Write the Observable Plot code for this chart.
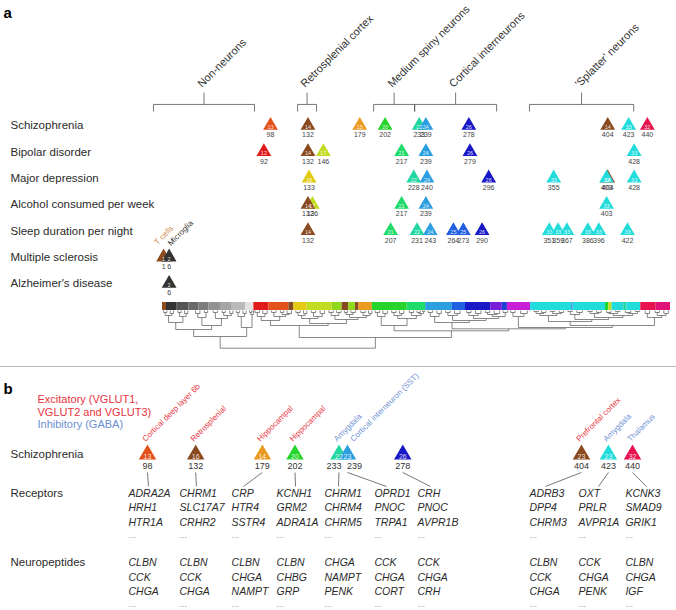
<!DOCTYPE html>
<html><head><meta charset="utf-8">
<script src="https://cdn.jsdelivr.net/npm/d3@7"></script>
<script src="https://cdn.jsdelivr.net/npm/@observablehq/plot@0.6"></script>
<style>
body{margin:0;background:#fff;}
#chart{width:676px;}
#chart svg{display:block;}
.sep{height:0;border-top:1px solid #b8b8b8;}
</style>
</head><body><div id="chart"></div>
<script>
// ---------------- DATA ----------------
const traits = ["Schizophrenia","Bipolar disorder","Major depression","Alcohol consumed per week","Sleep duration per night","Multiple sclerosis","Alzheimer's disease"];
// cluster index of each enriched cluster, and its supercluster label
const sczK = [98,132,179,202,233,239,278,404,423,440];
const sczSC = ["13","14","15","20","22","24","26","14","33","32"];
const bipK = [92,132,146,217,239,279,428];
const bipSC = ["12","14","17","21","24","26","33"];
const mddK = [133,228,240,296,355,404,403,428];
const mddSC = ["18","22","24","26","33","14","33","33"];
const alcK = [136,132,217,239,403];
const alcSC = ["17","14","21","24","33"];
const sleepK = [132,207,231,243,264,273,290,351,359,367,386,396,422];
const sleepSC = ["14","21","22","24","25","25","26","33","33","33","33","33","33"];
const msK = [1,6];
const msSC = ["1","2"];
const adK = [6];
const adSC = ["2"];
const nonNeuronLabels = ["T cells","Microglia"];

// cell-type groups (brackets) in cluster-index units
const groupNames = ["Non-neurons","Retrosplenial cortex","Medium spiny neurons","Cortical interneurons","'Splatter' neurons"];
const groupFrom = [-8.2,122.6,191.6,228.8,333];
const groupTo = [83.5,139.8,228.8,303.2,427.6];

// supercluster palette
const scIds = ["1","2","3","4","5","6","7","8","9","12","13","14","15","17","18","19","20","21","22","24","25","26","27","28","29","32","33","34"];
const scColors = ["#8c4b1f","#333333","#555555","#6a6a6a","#7d7d7d","#929292","#a5a5a5","#bababa","#e2e2e2","#e01b1b","#e4521c","#8a4a1f","#eb9a21","#c2dc23","#e2cb12","#8fd81c","#26d42c","#1fdb6a","#22d6a1","#2c9fe0","#205fe0","#1818c6","#7a1ed8","#2040d0","#c81ed8","#e6134e","#22dcdc","#e0137a"];

// dendrogram colour bar: segment starts (cluster index) and supercluster
const barFrom = [0,3.6,13.3,23.9,33,42,52.6,63.3,75.4,82.9,96.5,114.7,119.2,131.3,154,163,169,175.2,178.2,190.4,222,238.8,263,275,297.8,308.4,313,334,371.5,372.5,402,405,408,418.6,421.6,434,448];
const barSC = ["1","2","3","4","5","6","7","8","9","12","13","14","18","17","19","14","19","14","15","20","21","24","25","26","27","28","29","33","25","33","20","17","33","22","33","32","34"];
const barEnd = 461;

// dendrogram: [left, right, height]; leaves are cluster indices
const nonNeuronTree = [
  [
    [[[1,4,2],[7,10,3],5],[[14,17,2],[20,23,3],6],12],
    [[[30,34,3],[38,41,2],7],[[46,50,2],[[54,57,2],[61,64,3],5],8],15],
    19],
  [[[67,70,2],[73,76,3],6],[[79,81,2],[82,83,1],4],17],
  26];
const neuronTree = [
  [
    [[[84,88,2],[91,95,3],6],[[99,103,2],[[107,110,2],[113,117,3],4],6],10],
    [[[[121,125,2],[128,131,3],5],[[135,139,2],[143,147,3],6],8],[[[151,155,2],[158,162,2],5],[[[165,168,2],[171,175,2],4],[[180,184,2],[187,190,3],5],7],9],13],
    15],
  [
    [[[193,197,2],[200,204,3],6],[[[208,212,2],[215,219,3],5],[[224,228,2],[[231,234,2],[236,238,1],3],5],8],15],
    [
      [[[241,245,2],[249,253,3],6],[[[257,261,2],[265,270,3],5],[[[276,280,2],[284,289,3],5],[[[293,297,2],[301,306,3],4],[309,313,2],6],8],10],12],
      [
        [[316,320,2],[325,331,3],6],
        [
          [[[[337,341,1],[344,348,2],3],[[352,356,1],[360,364,2],3],5],[[[368,372,1],[376,381,2],4],[[[386,390,1],[394,398,2],3],[[[403,407,2],[411,415,1],3],[[420,425,2],[429,433,1],3],5],7],9],11],
          [[438,442,3],[[447,451,2],[455,459,3],5],7],
          15],
        17],
      18.3],
    20.3],
  27];
const treeRoot = [nonNeuronTree, neuronTree, 37.7];

// panel b
const bSC = ["13","16","14","20","22","23","26","23","23","32"];
const bRegion = ["Cortical deep layer 6b","Retrosplenial","Hippocampal","Hippocampal","Amygdala","Cortical interneuron (SST)","","Prefrontal cortex","Amygdala","Thalamus"];
const bClass = ["Excitatory","Excitatory","Excitatory","Excitatory","Inhibitory","Inhibitory","","Excitatory","Inhibitory","Inhibitory"];
const geneColLeft = [84.6,120.6,157.3,189,222.8,258,288.4,367.3,401.9,435];
const geneColLink = [98.7,132.5,165.7,202.4,232.7,266.5,297.5,378.6,416,449.8];
const receptors = [
  ["ADRA2A","HRH1","HTR1A"],["CHRM1","SLC17A7","CRHR2"],["CRP","HTR4","SSTR4"],["KCNH1","GRM2","ADRA1A"],
  ["CHRM1","CHRM4","CHRM5"],["OPRD1","PNOC","TRPA1"],["CRH","PNOC","AVPR1B"],
  ["ADRB3","DPP4","CHRM3"],["OXT","PRLR","AVPR1A"],["KCNK3","SMAD9","GRIK1"]];
const neuropeptides = [
  ["CLBN","CCK","CHGA"],["CLBN","CCK","CHGA"],["CLBN","CHGA","NAMPT"],["CLBN","CHBG","GRP"],
  ["CHGA","NAMPT","PENK"],["CCK","CHGA","CORT"],["CCK","CHGA","CRH"],
  ["CLBN","CCK","CHGA"],["CCK","CHGA","PENK"],["CLBN","CHGA","IGF"]];

// ---------------- LAYOUT ----------------
const FONT = "'Liberation Sans', Arial, Helvetica, sans-serif";
const RED = "#e8323c", BLUE = "#6d8fd4", INK = "#2a2a2a";
const vBracket = -0.8, vDrop = -0.53, vStub = -1.25, vGroupLabel = -1.42;

const chart = document.getElementById("chart");
function add(el){ el.style.display = "block"; chart.appendChild(el); }

// ---------------- PANEL A ----------------
const rowsK = [sczK,bipK,mddK,alcK,sleepK,msK,adK];
const rowsSC = [sczSC,bipSC,mddSC,alcSC,sleepSC,msSC,adSC];
const hits = rowsK.flatMap((ks,i) => ks.map((k,j) => ({row:i, k, sc: rowsSC[i][j]})));
const groups = groupNames.map((name,i) => ({name, from: groupFrom[i], to: groupTo[i], mid: (groupFrom[i]+groupTo[i])/2}));
const ends = groups.flatMap(g => [g.from, g.to]);
const msHits = msK.map((k,i) => ({k, label: nonNeuronLabels[i]}));

add(Plot.plot({
  width: 676, height: 298,
  marginTop: 0, marginBottom: 0, marginLeft: 0, marginRight: 0,
  x: {domain: [0, 461], range: [162, 670], axis: null},
  y: {domain: [-4.747, 6.57], range: [0, 298], axis: null},
  color: {domain: scIds, range: scColors},
  style: {fontFamily: FONT, background: "white", overflow: "visible"},
  marks: [
    Plot.text(["a"], {frameAnchor: "top-left", dx: 3, dy: 13, fontWeight: "bold", fontSize: 15, textAnchor: "start", lineAnchor: "middle", fill: "#000"}),
    // brackets
    Plot.link(groups, {x1: "from", x2: "to", y1: () => vBracket, y2: () => vBracket, stroke: "#555", strokeWidth: 0.8}),
    Plot.link(ends, {x1: d => d, x2: d => d, y1: () => vBracket, y2: () => vDrop, stroke: "#555", strokeWidth: 0.8}),
    Plot.link(groups, {x1: "mid", x2: "mid", y1: () => vStub, y2: () => vBracket, stroke: "#555", strokeWidth: 0.8}),
    Plot.text(groups, {x: "mid", y: () => vGroupLabel, text: "name", rotate: -45, textAnchor: "start", lineAnchor: "bottom", dx: -2, fontSize: 11, fill: "#333"}),
    // row labels
    Plot.text(traits, {y: (d,i) => i, text: d => d, frameAnchor: "left", dx: 10, textAnchor: "start", fontSize: 11.5, fill: INK}),
    // triangles
    Plot.dot(hits, {x: "k", y: "row", symbol: "triangle", r: 5.5, fill: "sc"}),
    Plot.text(hits, {x: "k", y: "row", text: "sc", fill: "white", fillOpacity: 0.85, fontSize: 5.5, dy: 1.8}),
    Plot.text(hits, {x: "k", y: "row", text: d => String(d.k), fill: "#444", fontSize: 7, dy: 9.5}),
    // T cells / Microglia labels
    Plot.text(msHits.slice(0,1), {x: "k", y: () => 5, text: "label", rotate: -45, textAnchor: "start", lineAnchor: "bottom", dx: -6, dy: -12, fontSize: 8, fill: "#c8864a"}),
    Plot.text(msHits.slice(1), {x: "k", y: () => 5, text: "label", rotate: -45, textAnchor: "start", lineAnchor: "bottom", dx: 2, dy: -11, fontSize: 8, fill: "#333"})
  ]
}));

// ---------------- DENDROGRAM ----------------
const segs = [];
(function layout(node){
  if (typeof node === "number") return {x: node, h: 0};
  const L = layout(node[0]), R = layout(node[1]), h = node[2];
  segs.push({x1: L.x, y1: L.h, x2: L.x, y2: h});
  segs.push({x1: R.x, y1: R.h, x2: R.x, y2: h});
  segs.push({x1: L.x, y1: h, x2: R.x, y2: h});
  return {x: (L.x + R.x) / 2, h};
})(treeRoot);
const bar = barFrom.map((f,i) => ({from: f, to: i < barFrom.length - 1 ? barFrom[i+1] : barEnd, sc: barSC[i]}));

add(Plot.plot({
  width: 676, height: 68,
  marginTop: 0, marginBottom: 0, marginLeft: 0, marginRight: 0,
  x: {domain: [0, 461], range: [162, 670], axis: null},
  y: {domain: [-12, 56], range: [0, 68], axis: null},
  color: {domain: scIds, range: scColors},
  style: {fontFamily: FONT, background: "white"},
  marks: [
    Plot.rect(bar, {x1: "from", x2: "to", y1: () => -8, y2: () => 0, fill: "sc"}),
    Plot.link(segs, {x1: "x1", y1: "y1", x2: "x2", y2: "y2", stroke: "#6a6a6a", strokeWidth: 0.8})
  ]
}));

const sep = document.createElement("div");
sep.className = "sep";
chart.appendChild(sep);

// ---------------- PANEL B ----------------
const bHits = sczK.map((k,i) => ({k, scA: sczSC[i], label: bSC[i], region: bRegion[i], cls: bClass[i], link: geneColLink[i]}));
const geneText = [];
receptors.forEach((col,c) => { col.forEach((g,j) => geneText.push({x: geneColLeft[c], y: 2.67 + j, g})); });
neuropeptides.forEach((col,c) => { col.forEach((g,j) => geneText.push({x: geneColLeft[c], y: 7.4 + j, g})); });
const dots = geneColLeft.flatMap(x => [{x, y: 5.67}, {x, y: 10.4}]);
const blockLabels = [{t: "Receptors", y: 2.67}, {t: "Neuropeptides", y: 7.4}];
const vRegion = -0.85;
const numOpts = {x: "k", y: () => 0, text: d => String(d.k), fill: "#333", fontSize: 9, dy: 12};

add(Plot.plot({
  width: 676, height: 242,
  marginTop: 0, marginBottom: 0, marginLeft: 0, marginRight: 0,
  x: {domain: [0, 471], range: [8, 676], axis: null},
  y: {domain: [-5.959, 10.685], range: [0, 243], axis: null},
  color: {domain: scIds, range: scColors},
  style: {fontFamily: FONT, background: "white", overflow: "visible"},
  marks: [
    Plot.text(["b"], {frameAnchor: "top-left", dx: 3, dy: 22, fontWeight: "bold", fontSize: 15, textAnchor: "start", lineAnchor: "middle", fill: "#000"}),
    Plot.text(["Excitatory (VGLUT1,\nVGLUT2 and VGLUT3)"], {frameAnchor: "top-left", dx: 37, dy: 26, textAnchor: "start", lineAnchor: "top", fontSize: 11, lineHeight: 1.18, fill: RED}),
    Plot.text(["Inhibitory (GABA)"], {frameAnchor: "top-left", dx: 37, dy: 57, textAnchor: "start", lineAnchor: "middle", fontSize: 11, fill: BLUE}),
    Plot.text(["Schizophrenia"], {y: () => 0, text: d => d, frameAnchor: "left", dx: 10, textAnchor: "start", fontSize: 11.5, fill: INK}),
    Plot.text(blockLabels, {y: "y", text: "t", frameAnchor: "left", dx: 10, textAnchor: "start", fontSize: 11.5, fill: INK}),
    // region labels
    Plot.text(bHits.filter(d => d.cls === "Excitatory"), {x: "k", y: () => vRegion, text: "region", rotate: -45, textAnchor: "start", lineAnchor: "bottom", dx: -2, fontSize: 8, fill: RED}),
    Plot.text(bHits.filter(d => d.cls === "Inhibitory" && d.k !== 239), {x: "k", y: () => vRegion, text: "region", rotate: -45, textAnchor: "start", lineAnchor: "bottom", dx: -2, fontSize: 8, fill: BLUE}),
    Plot.text(bHits.filter(d => d.k === 239), {x: "k", y: () => vRegion, text: "region", rotate: -45, textAnchor: "start", lineAnchor: "bottom", dx: 6, fontSize: 8, fill: BLUE}),
    // triangles
    Plot.dot(bHits, {x: "k", y: () => 0, symbol: "triangle", r: 6.5, fill: "scA"}),
    Plot.text(bHits, {x: "k", y: () => 0, text: "label", fill: "white", fillOpacity: 0.85, fontSize: 7, dy: 2}),
    Plot.text(bHits.filter(d => d.k !== 233 && d.k !== 239), numOpts),
    Plot.text(bHits.filter(d => d.k === 233), {...numOpts, dx: -5}),
    Plot.text(bHits.filter(d => d.k === 239), {...numOpts, dx: 7}),
    // connectors
    Plot.link(bHits, {x1: "k", x2: "link", y1: () => 1.23, y2: () => 2.19, stroke: "#555", strokeWidth: 0.8}),
    // genes
    Plot.text(geneText, {x: "x", y: "y", text: "g", textAnchor: "start", fontStyle: "italic", fontSize: 10.5, fill: INK}),
    Plot.text(dots, {x: "x", y: "y", text: () => "...", textAnchor: "start", fontSize: 9, fill: "#999", dy: -2})
  ]
}));
</script>
</body></html>
